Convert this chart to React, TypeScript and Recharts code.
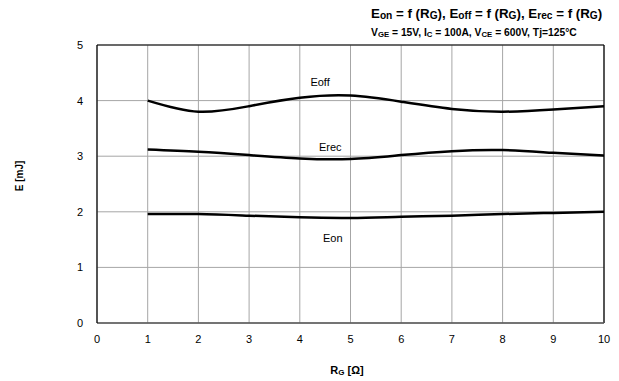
import React from "react";
import {
  CartesianGrid,
  Line,
  LineChart,
  ReferenceDot,
  ReferenceLine,
  XAxis,
  YAxis,
} from "recharts";

// gate resistance in ohm
const rg = [1, 2, 3, 4, 5, 6, 7, 8, 9, 10];
// switching energies in mJ
const eoff = [4.0, 3.8, 3.9, 4.05, 4.09, 3.98, 3.85, 3.8, 3.84, 3.9];
const erec = [3.12, 3.08, 3.02, 2.96, 2.95, 3.02, 3.09, 3.11, 3.06, 3.01];
const eon = [1.96, 1.96, 1.93, 1.9, 1.89, 1.91, 1.93, 1.96, 1.98, 2.0];

const xTicks = [0, 1, 2, 3, 4, 5, 6, 7, 8, 9, 10];
const yTicks = [0, 1, 2, 3, 4, 5];

const data = rg.map((r, i) => ({ rg: r, eoff: eoff[i], erec: erec[i], eon: eon[i] }));

const font = "'Liberation Sans', Arial, sans-serif";

function Sub({ children, size }: { children: React.ReactNode; size: number }) {
  return (
    <span style={{ fontSize: size, verticalAlign: "-1px" }}>{children}</span>
  );
}

export default function App() {
  const labelStyle = { fontFamily: font, fontSize: 11, fill: "#000" };
  return (
    <div
      style={{
        position: "absolute",
        left: 0,
        top: 0,
        width: 619,
        height: 381,
        background: "#fff",
        fontFamily: font,
      }}
    >
      <LineChart
        width={619}
        height={381}
        data={data}
        margin={{ top: 45, right: 15, bottom: 0, left: 0 }}
      >
        <CartesianGrid stroke="#a6a6a6" strokeWidth={1} />
        <XAxis
          dataKey="rg"
          type="number"
          domain={[0, 10]}
          ticks={xTicks}
          interval={0}
          height={58}
          tickLine={false}
          axisLine={{ stroke: "#555", strokeWidth: 1.5 }}
          tick={{ fontFamily: font, fontSize: 11, fill: "#000" }}
          tickMargin={6}
        />
        <YAxis
          type="number"
          domain={[0, 5]}
          ticks={yTicks}
          interval={0}
          width={97}
          tickLine={false}
          axisLine={{ stroke: "#000", strokeWidth: 1.2 }}
          tick={{ fontFamily: font, fontSize: 11, fill: "#000" }}
          tickMargin={8}
        />
        <ReferenceLine y={5} stroke="#000" strokeWidth={1.2} />
        <ReferenceLine x={10} stroke="#000" strokeWidth={1.2} />
        <Line
          dataKey="eoff"
          type="natural"
          stroke="#000"
          strokeWidth={2.5}
          dot={false}
          isAnimationActive={false}
        />
        <Line
          dataKey="erec"
          type="natural"
          stroke="#000"
          strokeWidth={2.5}
          dot={false}
          isAnimationActive={false}
        />
        <Line
          dataKey="eon"
          type="natural"
          stroke="#000"
          strokeWidth={2.5}
          dot={false}
          isAnimationActive={false}
        />
        <ReferenceDot
          x={4.4}
          y={4.33}
          r={0}
          label={{ value: "Eoff", position: "center", style: labelStyle }}
        />
        <ReferenceDot
          x={4.6}
          y={3.17}
          r={0}
          label={{ value: "Erec", position: "center", style: labelStyle }}
        />
        <ReferenceDot
          x={4.65}
          y={1.53}
          r={0}
          label={{ value: "Eon", position: "center", style: labelStyle }}
        />
      </LineChart>

      <div
        style={{
          position: "absolute",
          left: 371,
          top: 6,
          fontSize: 13.3,
          fontWeight: "bold",
          whiteSpace: "nowrap",
          color: "#000",
        }}
      >
        E<Sub size={10.2}>on</Sub> = f (R<Sub size={10.2}>G</Sub>), E
        <Sub size={10.2}>off</Sub> = f (R<Sub size={10.2}>G</Sub>), E
        <Sub size={10.2}>rec</Sub> = f (R<Sub size={10.2}>G</Sub>)
      </div>
      <div
        style={{
          position: "absolute",
          left: 371,
          top: 27,
          fontSize: 10.3,
          fontWeight: "bold",
          whiteSpace: "nowrap",
          color: "#000",
        }}
      >
        V<Sub size={7.8}>GE</Sub> = 15V, I<Sub size={7.8}>C</Sub> = 100A, V
        <Sub size={7.8}>CE</Sub> = 600V, Tj=125°C
      </div>

      <div
        style={{
          position: "absolute",
          left: 19,
          top: 176,
          transform: "translate(-50%, -50%) rotate(-90deg)",
          fontSize: 10,
          fontWeight: "bold",
          whiteSpace: "nowrap",
          color: "#000",
        }}
      >
        E [mJ]
      </div>
      <div
        style={{
          position: "absolute",
          left: 347,
          top: 370,
          transform: "translate(-50%, -50%)",
          fontSize: 11,
          fontWeight: "bold",
          whiteSpace: "nowrap",
          color: "#000",
        }}
      >
        R<Sub size={8}>G</Sub> [Ω]
      </div>
    </div>
  );
}
